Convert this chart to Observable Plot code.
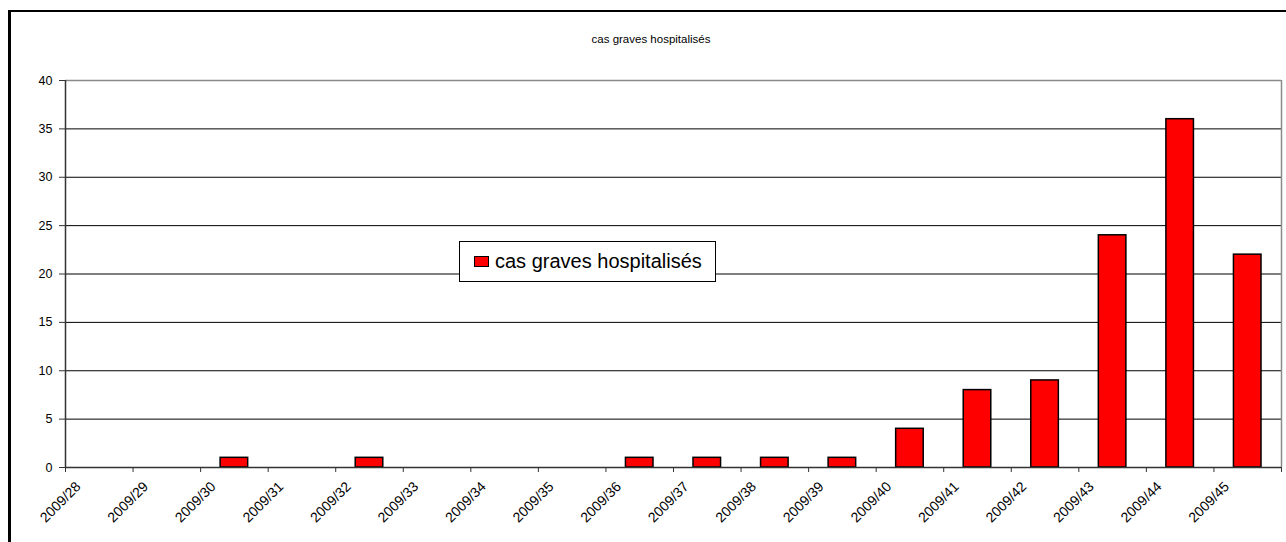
<!DOCTYPE html>
<html>
<head>
<meta charset="utf-8">
<script src="https://cdn.jsdelivr.net/npm/d3@7"></script>
<script src="https://cdn.jsdelivr.net/npm/@observablehq/plot@0.6"></script>
<style>
  body { margin: 0; overflow: hidden; background: #fff; }
  #wrap { position: relative; width: 1286px; height: 542px; overflow: hidden; font-family: "Liberation Sans", Arial, sans-serif; }
  #frame { position: absolute; left: 8px; top: 10px; width: 1400px; height: 700px; border-left: 3px solid #000; border-top: 2px solid #000; }
  #title { position: absolute; left: 0; top: 33px; width: 1302px; text-align: center; font-size: 11.5px; color: #000; }
  #chart { position: absolute; left: 0; top: 0; }
  #legend { position: absolute; left: 459px; top: 241px; width: 255px; height: 39px; border: 1px solid #000; background: #fff; display: flex; align-items: center; font-size: 20px; color: #000; }
  #legend .sw { width: 13px; height: 9px; background: #ff0000; border: 1px solid #000; margin-left: 14px; margin-right: 6px; }
</style>
</head>
<body>
<div id="wrap">
  <div id="frame"></div>
  <div id="chart"></div>
  <div id="title"></div>
  <div id="legend"><div class="sw"></div><span id="legtext"></span></div>
</div>
<script>
const titleText = "cas graves hospitalisés";
const seriesName = "cas graves hospitalisés";
const weeks = ["2009/28","2009/29","2009/30","2009/31","2009/32","2009/33","2009/34","2009/35","2009/36","2009/37","2009/38","2009/39","2009/40","2009/41","2009/42","2009/43","2009/44","2009/45"];
const cases = [0,0,1,0,1,0,0,0,1,1,1,1,4,8,9,24,36,22];
const yTicks = [0,5,10,15,20,25,30,35,40];

document.getElementById("title").textContent = titleText;
document.getElementById("legtext").textContent = seriesName;

const data = weeks.map((w, i) => ({week: w, i, value: cases[i]}));
const n = weeks.length;
const edges = d3.range(n + 1);

const chart = Plot.plot({
  width: 1286,
  height: 542,
  marginLeft: 65,
  marginRight: 5,
  marginTop: 80,
  marginBottom: 75,
  x: {domain: [0, n], axis: null},
  y: {domain: [0, 40], axis: null},
  style: {fontFamily: "'Liberation Sans', Arial, sans-serif", background: "transparent", color: "#000"},
  marks: [
    Plot.ruleY(yTicks.filter(v => v > 0 && v < 40), {stroke: "#000", strokeWidth: 1}),
    Plot.ruleY([40], {stroke: "#8a8a8a", strokeWidth: 1.5}),
    Plot.ruleX([n], {stroke: "#8a8a8a", strokeWidth: 1.5}),
    Plot.rect(data.filter(d => d.value > 0), {
      x1: "i", x2: d => d.i + 1, y1: () => 0, y2: "value",
      fill: "#ff0000", stroke: "#000", strokeWidth: 1.5,
      insetLeft: 20, insetRight: 20
    }),
    Plot.ruleY([0], {stroke: "#333", strokeWidth: 1.5}),
    Plot.ruleX([0], {stroke: "#333", strokeWidth: 1.5}),
    Plot.axisY(yTicks, {tickSize: 6, tickPadding: 7, fontSize: 12.5, stroke: "#333", fill: "#000", label: null, tickFormat: d => String(d)}),
    Plot.axisX(edges, {tickSize: 5, stroke: "#333", label: null, tickFormat: () => ""}),
    Plot.text(data, {x: "i", text: "week", frameAnchor: "bottom", rotate: -45, textAnchor: "end", dx: 16, dy: 20, fontSize: 14, fill: "#000"})
  ]
});
document.getElementById("chart").appendChild(chart);
</script>
</body>
</html>
